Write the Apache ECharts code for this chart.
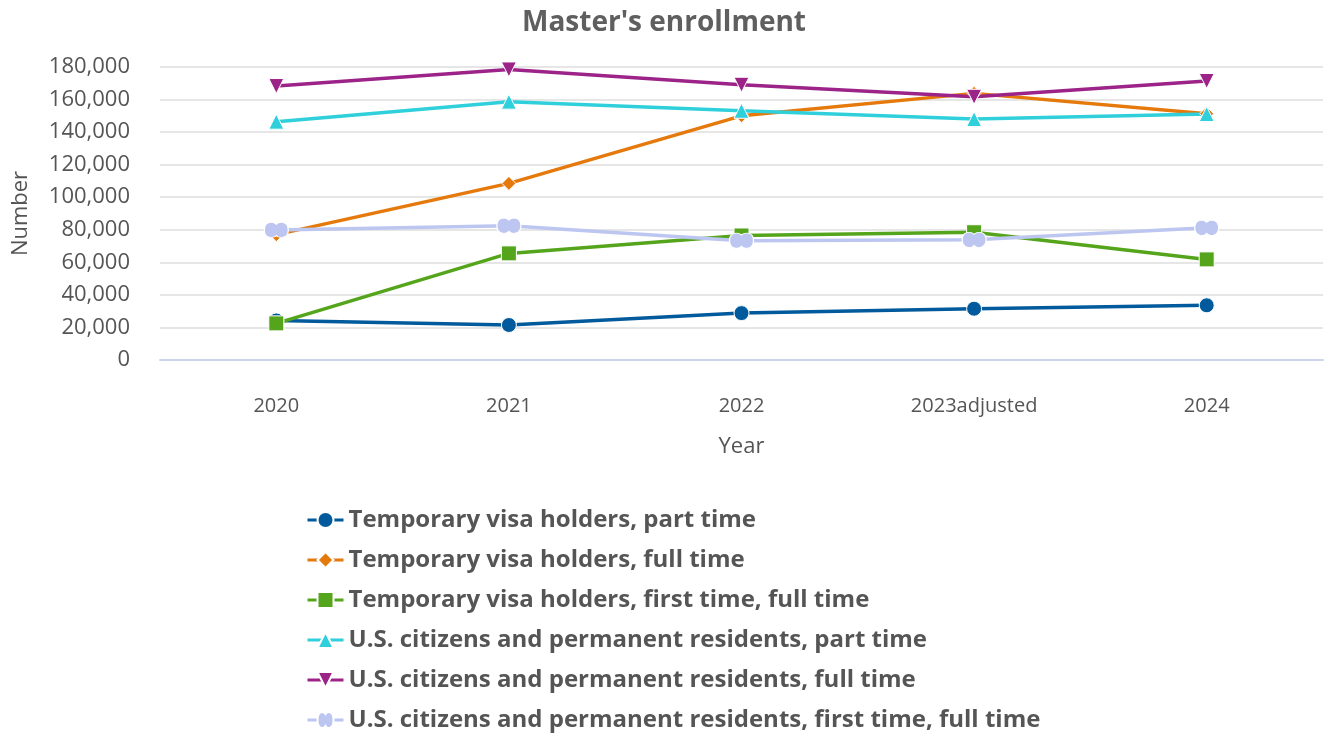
<!DOCTYPE html>
<html><head><meta charset="utf-8">
<script src="https://cdn.jsdelivr.net/npm/echarts@6/dist/echarts.min.js"></script>
<style>html,body{margin:0;padding:0;background:#fff}#c{width:1328px;height:734px}</style>
</head><body><div id="c"></div>
<script>
const categories = ['2020','2021','2022','2023adjusted','2024'];
const seriesNames = [
  'Temporary visa holders, part time',
  'Temporary visa holders, full time',
  'Temporary visa holders, first time, full time',
  'U.S. citizens and permanent residents, part time',
  'U.S. citizens and permanent residents, full time',
  'U.S. citizens and permanent residents, first time, full time'
];
const tempPartTime = [24300, 21500, 28800, 31500, 33600];
const tempFullTime = [77000, 108500, 150000, 163800, 151300];
const tempFirstFull = [22500, 65500, 76500, 78500, 61800];
const usPartTime = [146400, 158700, 153100, 148000, 151100];
const usFullTime = [168300, 178500, 169100, 161700, 171400];
const usFirstFull = [79900, 82500, 73300, 73800, 81200];
const yTicks = [0,20000,40000,60000,80000,100000,120000,140000,160000,180000];

const colors = ['#005a9c','#e5790c','#55a51c','#2fd0db','#9c2488','#bcc6f0'];
const bowtie = 'path://M0,6 C0,0 9,0 12,2.2 C15,0 24,0 24,6 C24,12 15,12 12,9.8 C9,12 0,12 0,6 Z';
const symbols = ['circle','diamond','rect','triangle','triangle',bowtie];
const sizes = [15,14,15,15,15,[24,15]];
const rotates = [0,0,0,0,180,0];
const values = [tempPartTime,tempFullTime,tempFirstFull,usPartTime,usFullTime,usFirstFull];

const chart = echarts.init(document.getElementById('c'));
const font = '"Open Sans", sans-serif';
chart.setOption({
  animation:false,
  color: colors,
  title:{text:"Master's enrollment",left:'center',top:4,textStyle:{fontFamily:font,fontSize:28,fontWeight:'bold',color:'#5f5f5f'}},
  grid:{left:160,right:5,top:67,bottom:374,containLabel:false,outerBoundsMode:'none'},
  legend:{orient:'vertical',left:306,top:508,height:226,padding:0,itemWidth:36,itemHeight:20,itemGap:16,
    lineStyle:{width:3},
    textStyle:{fontFamily:font,fontSize:24,fontWeight:'bold',color:'#555',lineHeight:24},
    data:seriesNames},
  xAxis:{type:'category',data:categories,boundaryGap:true,
    name:'Year',nameLocation:'middle',nameGap:76,nameTextStyle:{fontFamily:font,fontSize:22,color:'#555'},
    axisLine:{lineStyle:{color:'#ccd6eb',width:2}},
    axisTick:{alignWithLabel:true,length:18,lineStyle:{color:'#ccd6eb',width:1}},
    axisLabel:{margin:36,fontFamily:font,fontSize:20,color:'#555'}},
  yAxis:{type:'value',min:0,max:180000,interval:20000,
    name:'Number',nameLocation:'middle',nameGap:128,nameTextStyle:{fontFamily:font,fontSize:22,color:'#555'},
    axisLine:{show:false},axisTick:{show:false},
    splitLine:{lineStyle:{color:'#e6e6e6',width:2}},
    axisLabel:{margin:30,fontFamily:font,fontSize:22,color:'#555',
      formatter:v=>v.toLocaleString('en-US')}},
  series: seriesNames.map((n,i)=>({
    name:n,type:'line',data:values[i],symbol:symbols[i],symbolSize:sizes[i],symbolRotate:rotates[i],
    showAllSymbol:true,
    lineStyle:{width:3.5,color:colors[i]},
    itemStyle:{color:colors[i],borderColor:'#fff',borderWidth:1},
    emphasis:{disabled:true}
  }))
});
</script></body></html>
